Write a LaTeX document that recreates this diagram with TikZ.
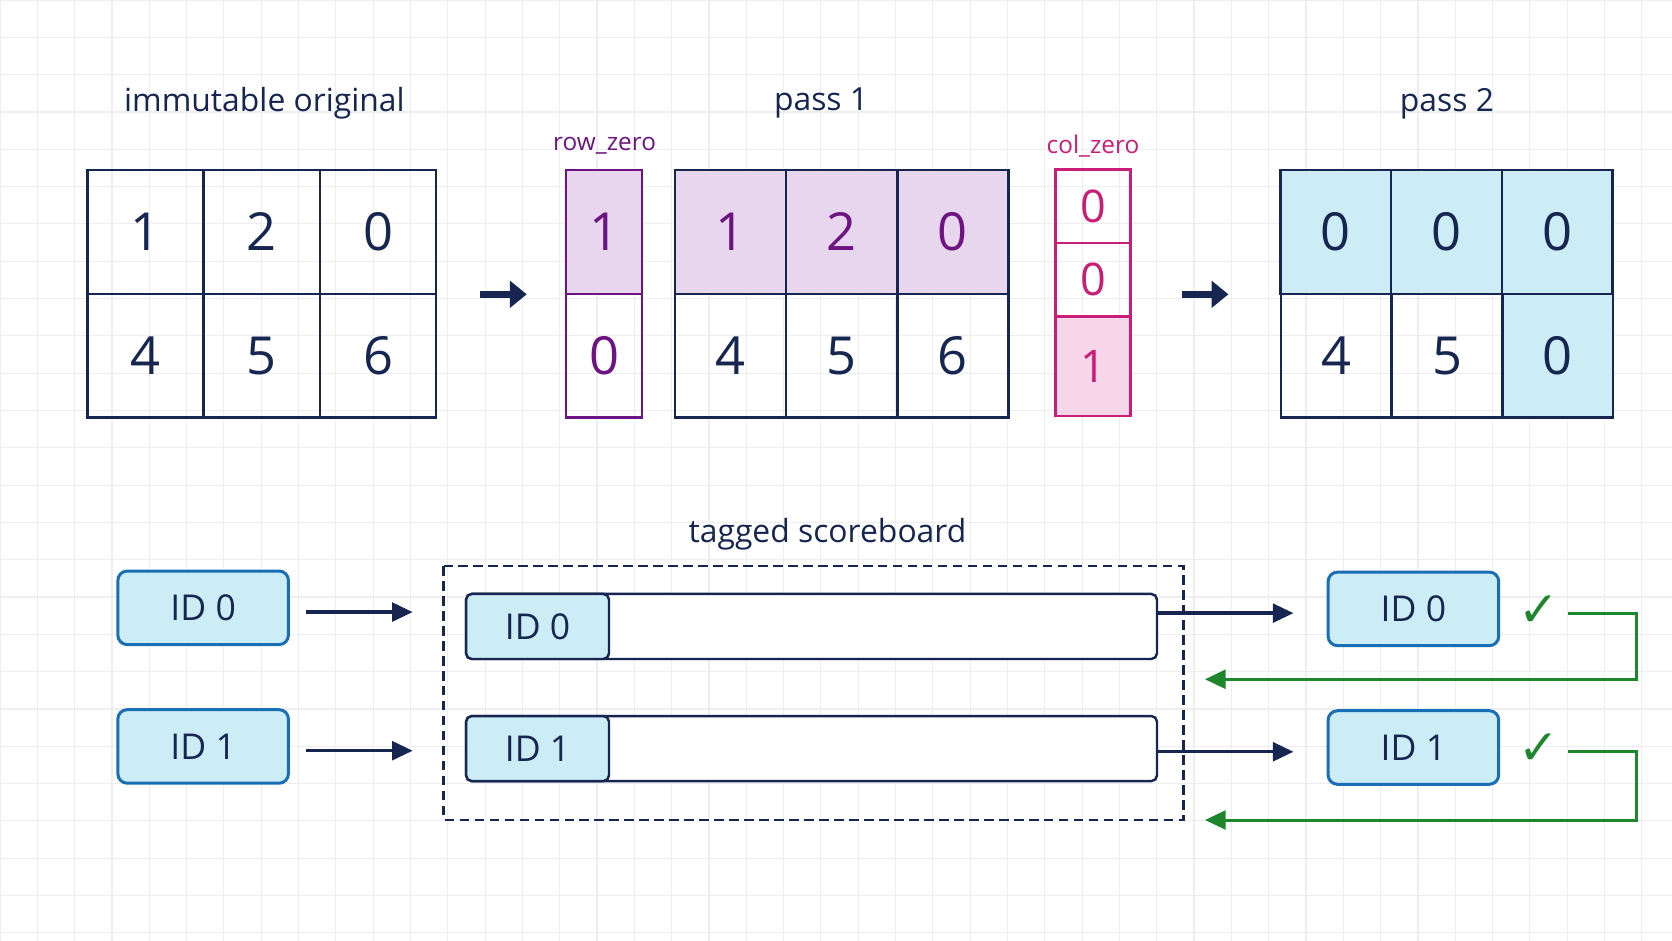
\documentclass[tikz,border=0pt]{standalone}
\usepackage{fontspec}
\setmainfont{Open Sans}
\newfontfamily\symfont{DejaVu Sans}
\usetikzlibrary{arrows.meta, positioning}
\definecolor{navy}{RGB}{22,38,80}
\definecolor{lavender}{RGB}{232,214,238}
\definecolor{rowpurple}{RGB}{110,20,130}
\definecolor{colpink}{RGB}{200,30,120}
\definecolor{pinkfill}{RGB}{246,214,232}
\definecolor{cyanfill}{RGB}{204,236,246}
\definecolor{idblue}{RGB}{25,110,180}
\definecolor{okgreen}{RGB}{30,135,45}
\definecolor{gridgray}{RGB}{238,238,240}

\tikzset{
  cell/.style={draw=navy, line width=1.3pt, minimum width=#1*0.02cm, minimum height=2.32cm,
    inner sep=0pt, font=\fontsize{28}{30}\selectfont, text=navy},
  title/.style={font=\fontsize{17}{20}\selectfont, text=navy},
  tag/.style={font=\fontsize{13}{15}\selectfont},
  idbox/.style={draw=idblue, fill=cyanfill, rounded corners=5pt, line width=1.6pt,
    minimum width=3.2cm, minimum height=1.38cm, font=\fontsize{19}{22}\selectfont, text=navy},
  bigarrow/.style={navy, line width=4pt, -{Triangle[length=9pt,width=14pt]}},
  flow/.style={navy, line width=1.8pt, -{Triangle[length=11pt,width=10pt]}},
  back/.style={okgreen, line width=1.6pt, -{Triangle[length=11pt,width=10pt]}}
}

\begin{document}
\begin{tikzpicture}[x=0.02cm, y=-0.02cm]
  \useasboundingbox (0,0) rectangle (1568,882);
  \fill[white] (0,0) rectangle (1568,882);
  \draw[gridgray, line width=0.6pt, step=0.7cm] (0,0) grid (1568,882);

  % immutable original
  \node[title] (t0) at (248,97) {immutable original};
  \foreach \v [count=\i] in {1,2,0} \node[cell=109] (a\i) at (82+109*\i-54.5,217.5) {\v};
  \foreach \v [count=\i] in {4,5,6} \node[cell=109] (b\i) at (82+109*\i-54.5,333.5) {\v};
  \draw[bigarrow] (450,276) coordinate (s1) -- (494,276) coordinate (e1);

  % pass 1
  \node[title] (t1) at (770,97) {pass 1};
  \node[tag, text=rowpurple] (rzl) at (567,137) {row\_zero};
  \node[cell=71, draw=rowpurple, fill=lavender, text=rowpurple] (rz1) at (566.5,217.5) {1};
  \node[cell=71, draw=rowpurple, text=rowpurple] (rz2) at (566.5,333.5) {0};
  \foreach \v [count=\i] in {1,2,0}
    \node[cell=104.3, fill=lavender, text=rowpurple] (p\i) at (633+104.3*\i-52.2,217.5) {\v};
  \foreach \v [count=\i] in {4,5,6} \node[cell=104.3] (q\i) at (633+104.3*\i-52.2,333.5) {\v};
  \node[tag, text=colpink] (czl) at (1025,137) {col\_zero};
  \foreach \v/\y [count=\i] in {0/193.5,0/262.5}
    \node[cell=70, draw=colpink, text=colpink, minimum height=1.38cm,
      font=\fontsize{24}{26}\selectfont] (cz\i) at (1025,\y) {\v};
  \node[cell=70, draw=colpink, fill=pinkfill, text=colpink, minimum height=1.86cm,
    font=\fontsize{24}{26}\selectfont] (cz3) at (1025,343.5) {1};
  \draw[bigarrow] (1108,276) coordinate (s2) -- (1152,276) coordinate (e2);

  % pass 2
  \node[title] (t2) at (1357,97) {pass 2};
  \foreach \v [count=\i] in {0,0,0}
    \node[cell=103.7, fill=cyanfill] (r\i) at (1201+103.7*\i-51.9,217.5) {\v};
  \node[cell=103.7] (u1) at (1253,333.5) {4};
  \node[cell=103.7] (u2) at (1357,333.5) {5};
  \node[cell=103.7, fill=cyanfill] (u3) at (1460.7,333.5) {0};

  % tagged scoreboard
  \node[title] (t3) at (776,501) {tagged scoreboard};
  \draw[navy, dash pattern=on 5pt off 3pt, line width=1.3pt] (416,531) rectangle (1110,769);
  \coordinate (tip) at (1213,0);
  \foreach \k/\y/\a/\r in {0/587.5/570/637, 1/702/700/769} {
    \node[idbox] (in\k) at (190.5,\a) {ID \k};
    \node[draw=navy, fill=white, line width=1.3pt, rounded corners=3pt, minimum width=12.96cm,
      minimum height=1.22cm, anchor=west] (bar\k) at (436,\y) {};
    \node[fill=cyanfill, draw=navy, line width=1.3pt, rounded corners=3pt, minimum width=2.68cm,
      minimum height=1.22cm, anchor=west, font=\fontsize{19}{22}\selectfont, text=navy]
      (lb\k) at (436,\y) {ID \k};
    \node[idbox] (out\k) at (1325.5,\a+1) {ID \k};
    \node[text=okgreen, font=\symfont\fontsize{26}{28}\selectfont] (ok\k) at (1443,\a+3) {✓};
    \coordinate (ret\k) at (1130,\r);
    \draw[flow] (287,\a+4) coordinate (src\k) -- ++(100,0);
    \draw[flow] (bar\k.east |- 0,\a+5) -- (tip |- 0,\a+5);
    \draw[back] (1470,\a+5) -| (1535,\r) -- (ret\k);
  }
\end{tikzpicture}
\end{document}
